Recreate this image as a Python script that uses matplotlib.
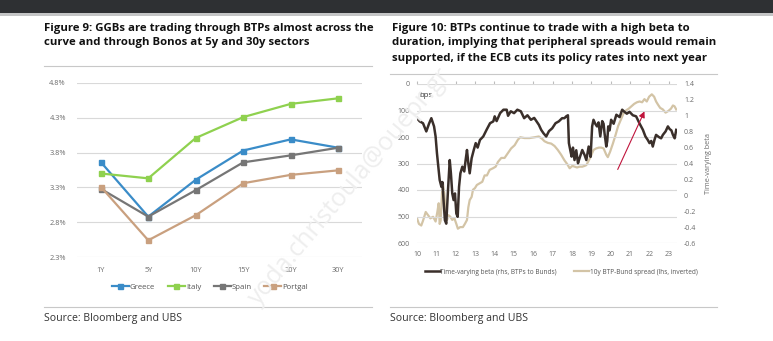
import matplotlib
matplotlib.use("Agg")
import matplotlib.pyplot as plt
from matplotlib.patches import Rectangle
from matplotlib.lines import Line2D

# ---------------- data ----------------
tenors = ["1Y", "5Y", "10Y", "15Y", "20Y", "30Y"]
greece = [3.665, 2.88, 3.41, 3.83, 3.99, 3.87]
italy = [3.50, 3.43, 4.01, 4.31, 4.50, 4.58]
spain = [3.28, 2.88, 3.26, 3.66, 3.76, 3.87]
portugal = [3.31, 2.54, 2.90, 3.36, 3.48, 3.545]
left_yticks = [2.3, 2.8, 3.3, 3.8, 4.3, 4.8]

dark_years = [10.00, 10.14, 10.31, 10.48, 10.62, 10.74, 10.88, 10.96, 11.03, 11.10,
              11.17, 11.26, 11.31, 11.38, 11.44, 11.51, 11.60, 11.69, 11.75, 11.82,
              11.89, 11.96, 12.03, 12.10, 12.17, 12.24, 12.34, 12.44, 12.51, 12.58,
              12.65, 12.72, 12.82, 12.93, 13.03, 13.13, 13.25, 13.42, 13.59, 13.77,
              13.94, 14.01, 14.11, 14.29, 14.46, 14.63, 14.70, 14.84, 15.01, 15.18,
              15.36, 15.53, 15.70, 15.88, 16.05, 16.29, 16.41, 16.53, 16.67, 16.81,
              16.98, 17.15, 17.32, 17.49, 17.61, 17.70, 17.79, 17.84, 17.91, 17.98,
              18.05, 18.13, 18.22, 18.31, 18.39, 18.53, 18.65, 18.74, 18.86, 18.96,
              19.04, 19.11, 19.20, 19.29, 19.37, 19.46, 19.56, 19.63, 19.68, 19.77,
              19.82, 19.87, 19.94, 20.02, 20.15, 20.29, 20.46, 20.59, 20.71, 20.83,
              20.97, 21.14, 21.31, 21.48, 21.66, 21.79, 21.91, 22.00, 22.09, 22.17,
              22.26, 22.34, 22.48, 22.60, 22.69, 22.83, 22.95, 23.04, 23.13, 23.21,
              23.30, 23.38]
dark_bps = [129, 141, 148, 179, 150, 129, 160, 198, 261, 312,
            362, 388, 370, 451, 514, 527, 400, 287, 337, 413,
            438, 413, 489, 501, 388, 337, 312, 330, 287, 249,
            300, 337, 280, 249, 223, 240, 211, 198, 173, 148,
            141, 122, 140, 110, 97, 97, 120, 103, 110, 97,
            103, 129, 118, 135, 128, 154, 173, 186, 198, 178,
            167, 148, 141, 129, 129, 122, 118, 223, 249, 274,
            240, 287, 250, 299, 280, 249, 268, 287, 236, 275,
            160, 135, 150, 160, 145, 198, 140, 150, 186, 236,
            215, 160, 175, 135, 150, 116, 125, 97, 105, 112,
            105, 118, 122, 148, 173, 198, 211, 223, 215, 236,
            210, 192, 200, 205, 192, 179, 160, 170, 175, 192,
            205, 173]

tan_years = [10.00, 10.10, 10.22, 10.31, 10.45, 10.57, 10.69, 10.83, 10.96, 11.05,
             11.12, 11.17, 11.22, 11.29, 11.34, 11.41, 11.48, 11.55, 11.62, 11.72,
             11.82, 11.93, 12.03, 12.11, 12.23, 12.37, 12.47, 12.58, 12.65, 12.72,
             12.82, 12.89, 12.99, 13.09, 13.23, 13.37, 13.49, 13.61, 13.75, 13.92,
             14.06, 14.18, 14.35, 14.52, 14.69, 14.86, 15.04, 15.21, 15.33, 15.55,
             15.81, 16.07, 16.29, 16.46, 16.58, 16.75, 16.93, 17.10, 17.27, 17.44,
             17.61, 17.76, 17.88, 18.02, 18.14, 18.26, 18.39, 18.53, 18.65, 18.74,
             18.87, 18.99, 19.11, 19.25, 19.39, 19.51, 19.63, 19.77, 19.85, 19.97,
             20.11, 20.25, 20.38, 20.52, 20.66, 20.80, 20.93, 21.07, 21.21, 21.35,
             21.49, 21.62, 21.74, 21.86, 21.98, 22.12, 22.24, 22.34, 22.44, 22.55,
             22.69, 22.83, 22.97, 23.11, 23.21, 23.29, 23.38]
tan_beta = [-0.29, -0.36, -0.38, -0.32, -0.21, -0.25, -0.29, -0.27, -0.33, -0.21,
            -0.10, -0.36, -0.32, 0.02, 0.15, 0.02, -0.19, -0.31, -0.25, -0.27,
            -0.31, -0.29, -0.36, -0.42, -0.40, -0.40, -0.36, -0.31, -0.15, -0.06,
            -0.02, 0.07, 0.09, 0.13, 0.15, 0.17, 0.25, 0.25, 0.32, 0.34,
            0.36, 0.42, 0.47, 0.47, 0.53, 0.59, 0.63, 0.70, 0.73, 0.72,
            0.72, 0.73, 0.74, 0.71, 0.68, 0.66, 0.65, 0.62, 0.57, 0.51,
            0.44, 0.39, 0.34, 0.37, 0.36, 0.35, 0.36, 0.36, 0.37, 0.38,
            0.44, 0.50, 0.57, 0.59, 0.60, 0.60, 0.59, 0.51, 0.48, 0.55,
            0.65, 0.76, 0.87, 0.95, 1.03, 1.07, 1.09, 1.12, 1.15, 1.17,
            1.18, 1.17, 1.21, 1.18, 1.24, 1.27, 1.24, 1.18, 1.14, 1.10,
            1.08, 1.04, 1.06, 1.09, 1.13, 1.12, 1.08]

year_ticks = list(range(10, 24))
bps_ticks = [0, 100, 200, 300, 400, 500, 600]
beta_ticks = [-0.6, -0.4, -0.2, 0, 0.2, 0.4, 0.6, 0.8, 1, 1.2, 1.4]
beta_labels = ["-0.6", "-0.4", "-0.2", "0", "0.2", "0.4", "0.6", "0.8", "1", "1.2", "1.4"]
arrow_start = (20.3, 332)
arrow_end = (21.8, 94)

# ---------------- figure ----------------
W, H = 773, 341
fig = plt.figure(figsize=(W / 100, H / 100), dpi=100)
fig.patch.set_facecolor("white")

def fx(x):
    return x / W

def fy(y):
    return 1 - y / H

FONT = ["Open Sans", "DejaVu Sans"]
TICKC = "#6b6b6b"
GRIDC = "#d9d9d9"

# top dark bar
fig.patches.append(Rectangle((0, fy(13)), 1, 13 / H, transform=fig.transFigure,
                             facecolor="#2e3033", edgecolor="none", zorder=0))
fig.patches.append(Rectangle((0, fy(16)), 1, 3 / H, transform=fig.transFigure,
                             facecolor="#c4c5c6", edgecolor="none", zorder=0))

# titles
tkw = dict(fontsize=8.2, fontweight="bold", family=FONT, color="#111111", va="center", ha="left")
fig.text(fx(44), fy(28), "Figure 9: GGBs are trading through BTPs almost across the", **tkw)
fig.text(fx(44), fy(43), "curve and through Bonos at 5y and 30y sectors", **tkw)
fig.text(fx(392), fy(28), "Figure 10: BTPs continue to trade with a high beta to", **tkw)
fig.text(fx(392), fy(43), "duration, implying that peripheral spreads would remain", **tkw)
fig.text(fx(392), fy(59), "supported, if the ECB cuts its policy rates into next year", **tkw)

# rules
for (x0, x1, y) in [(44, 372, 66), (44, 372, 307), (390, 717, 74), (390, 717, 307)]:
    fig.add_artist(Line2D([fx(x0), fx(x1)], [fy(y), fy(y)], transform=fig.transFigure,
                          color="#c8c8c8", lw=0.8))

skw = dict(fontsize=7.6, family=FONT, color="#333333", va="center", ha="left")
fig.text(fx(44), fy(318), "Source: Bloomberg and UBS", **skw)
fig.text(fx(390), fy(318), "Source: Bloomberg and UBS", **skw)

# ---------------- left chart ----------------
axL = fig.add_axes([fx(77), fy(257), (362 - 77) / W, (257 - 83) / H])
xs = list(range(len(tenors)))
series = [("Greece", greece, "#3a8cc8"), ("Italy", italy, "#8fd14f"),
          ("Spain", spain, "#767676"), ("Portgal", portugal, "#c9a07f")]
for name, vals, col in series:
    axL.plot(xs, vals, color=col, lw=1.6, marker="s", markersize=3.6, label=name, zorder=3)
axL.set_xlim(-0.5, len(tenors) - 0.5)
axL.set_ylim(2.3, 4.8)
axL.set_yticks(left_yticks)
axL.set_yticklabels([f"{v:.1f}%" for v in left_yticks])
axL.set_xticks(xs)
axL.set_xticklabels(tenors)
axL.grid(axis="y", color=GRIDC, lw=0.8)
axL.set_axisbelow(True)
for s in axL.spines.values():
    s.set_visible(False)
axL.tick_params(length=0, labelsize=5.3, labelcolor=TICKC, pad=8)
axL.tick_params(axis="x", pad=7)
for lab in axL.get_xticklabels() + axL.get_yticklabels():
    lab.set_family(FONT)
fig.legend(*axL.get_legend_handles_labels(), loc="center", bbox_to_anchor=(fx(210), fy(287)),
           ncol=4, frameon=False, prop={"family": FONT, "size": 5.6}, labelcolor="#555555",
           handlelength=2.2, handletextpad=0.15, columnspacing=1.6, markerscale=1.0)

# ---------------- right chart ----------------
axR = fig.add_axes([fx(417), fy(243), (677 - 417) / W, (243 - 84) / H])
axR.plot(dark_years, dark_bps, color="#3a2f2a", lw=1.8, zorder=3,
         label="Time-varying beta (rhs, BTPs to Bunds)")
axR.set_ylim(600, 0)
axR.set_yticks(bps_ticks)
axR.set_xlim(10, 23.42)
axR.set_xticks(year_ticks)
axR.grid(axis="y", color=GRIDC, lw=0.8)
axR.set_axisbelow(True)
for s in axR.spines.values():
    s.set_visible(False)
axR.tick_params(axis="y", length=0, labelsize=5.0, labelcolor=TICKC, pad=5)
axR.tick_params(axis="x", top=True, bottom=False, labeltop=False, labelbottom=True,
                length=2, color="#bdbdbd", direction="out", labelsize=5.0,
                labelcolor=TICKC, pad=4)
axR.annotate("", xy=arrow_end, xytext=arrow_start,
             arrowprops=dict(arrowstyle="-|>,head_length=0.35,head_width=0.18",
                             color="#c0143c", lw=0.8), zorder=5)
axR.text(10.1, 42, "bps", fontsize=5.6, family=FONT, color="#333333", va="center", ha="left")

axB = axR.twinx()
axB.plot(tan_years, tan_beta, color="#d3c4a6", lw=1.6, zorder=2,
         label="10y BTP-Bund spread (lhs, inverted)")
axB.set_ylim(-0.6, 1.4)
axB.set_yticks(beta_ticks)
axB.set_yticklabels(beta_labels)
for s in axB.spines.values():
    s.set_visible(False)
axB.tick_params(axis="y", length=0, labelsize=5.0, labelcolor=TICKC, pad=5)
axB.set_ylabel("Time-varying beta", fontsize=5.2, color=TICKC, family=FONT, labelpad=6)
axR.set_zorder(axB.get_zorder() + 1)
axR.patch.set_visible(False)
for lab in axR.get_xticklabels() + axR.get_yticklabels() + axB.get_yticklabels():
    lab.set_family(FONT)

h1, l1 = axR.get_legend_handles_labels()
h2, l2 = axB.get_legend_handles_labels()
fig.legend(h1 + h2, l1 + l2, loc="center", bbox_to_anchor=(fx(561), fy(272)), ncol=2,
           frameon=False, prop={"family": FONT, "size": 4.7}, labelcolor="#555555",
           handlelength=2.3, handletextpad=0.1, columnspacing=2.6)

# watermark
fig.text(fx(350), fy(187), "yoda.christoula@ouepr.gr", fontsize=18, family=FONT,
         color="#eeeeee", rotation=50, ha="center", va="center", rotation_mode="anchor",
         zorder=10)

fig.savefig("out.png", dpi=100, facecolor="white")
